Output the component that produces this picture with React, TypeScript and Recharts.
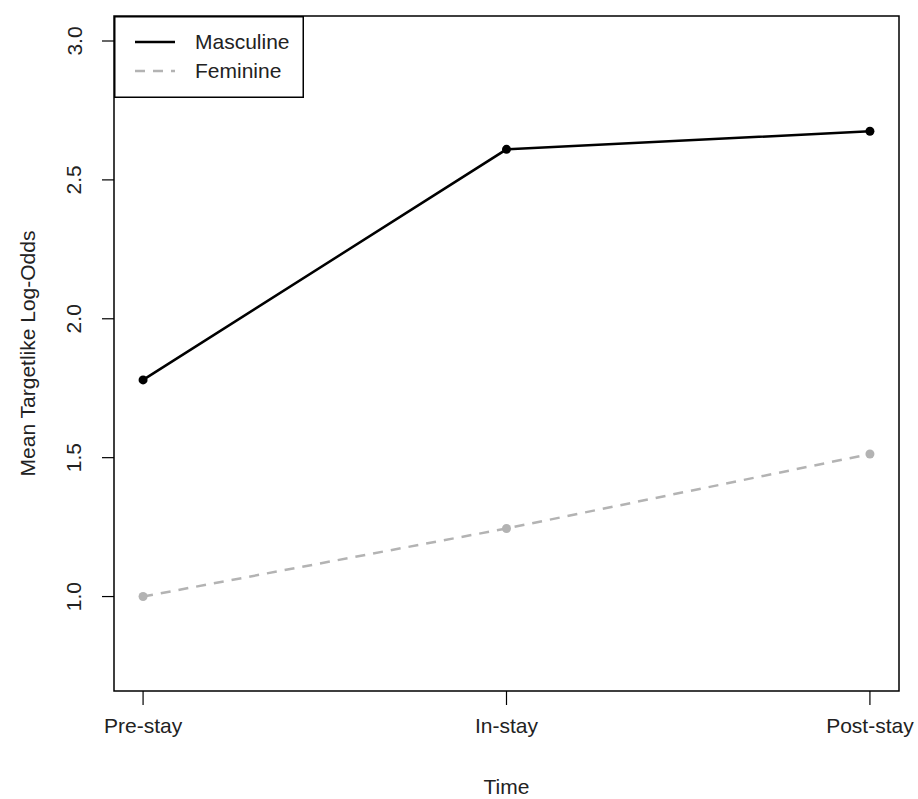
import { LineChart, Line, XAxis, YAxis, ReferenceArea, Label } from 'recharts';

const FONT = "'Liberation Sans', Arial, sans-serif";
const TEXT = '#222';
const GREY = '#b3b3b3';

const timePoints = [1, 2, 3];
const timeLabels = ['Pre-stay', 'In-stay', 'Post-stay'];
const masculine = [1.78, 2.61, 2.675];
const feminine = [1.0, 1.245, 1.513];
const yTicks = [1.0, 1.5, 2.0, 2.5, 3.0];
const seriesNames = ['Masculine', 'Feminine'];

const data = timePoints.map((t, i) => ({
  t,
  masculine: masculine[i],
  feminine: feminine[i],
}));

const XTick = (props: any) => {
  const { x, y, payload } = props;
  return (
    <text x={x} y={y + 26} textAnchor="middle" fontSize={21} fontFamily={FONT} fill={TEXT}>
      {timeLabels[payload.value - 1]}
    </text>
  );
};

const YTick = (props: any) => {
  const { x, y, payload } = props;
  const cx = x - 26;
  return (
    <text
      x={cx}
      y={y}
      textAnchor="middle"
      dominantBaseline="central"
      fontSize={21}
      fontFamily={FONT}
      fill={TEXT}
      transform={`rotate(-90 ${cx} ${y})`}
    >
      {payload.value.toFixed(1)}
    </text>
  );
};

// R-style legend box in the top-left corner of the plot
const LegendBox = () => (
  <svg width={190} height={82} style={{ display: 'block' }}>
    <rect x={0.75} y={0.75} width={188.5} height={80.5} fill="#fff" stroke="#000" strokeWidth={1.5} />
    <line x1={21} x2={61} y1={26} y2={26} stroke="#000" strokeWidth={2.5} />
    <line x1={21} x2={61} y1={55} y2={55} stroke={GREY} strokeWidth={2.5} strokeDasharray="10 8" />
    <text x={81} y={33} fontSize={21} fontFamily={FONT} fill={TEXT}>{seriesNames[0]}</text>
    <text x={81} y={62} fontSize={21} fontFamily={FONT} fill={TEXT}>{seriesNames[1]}</text>
  </svg>
);

export default function App() {
  return (
    <div style={{ position: 'absolute', left: 0, top: 0, width: 918, height: 799, background: '#fff' }}>
      <LineChart width={918} height={799} data={data} margin={{ top: 16, right: 19, left: 0, bottom: 0 }}>
        <XAxis
          type="number"
          dataKey="t"
          domain={[0.92, 3.08]}
          ticks={timePoints}
          height={108}
          axisLine={false}
          tickLine={{ stroke: '#000', strokeWidth: 1.2 }}
          tickSize={14}
          tick={<XTick />}
          interval={0}
        >
          <Label value="Time" position="insideBottom" offset={5} fontSize={21} fontFamily={FONT} fill={TEXT} />
        </XAxis>
        <YAxis
          type="number"
          domain={[0.66, 3.09]}
          ticks={yTicks}
          width={114}
          axisLine={false}
          tickLine={{ stroke: '#000', strokeWidth: 1.2 }}
          tickSize={12}
          tick={<YTick />}
          interval={0}
        >
          <Label
            content={({ viewBox }: any) => {
              const cx = viewBox.x + 27;
              const cy = viewBox.y + viewBox.height / 2;
              return (
                <text
                  x={cx}
                  y={cy}
                  textAnchor="middle"
                  dominantBaseline="central"
                  fontSize={21}
                  fontFamily={FONT}
                  fill={TEXT}
                  transform={`rotate(-90 ${cx} ${cy})`}
                >
                  Mean Targetlike Log-Odds
                </text>
              );
            }}
          />
        </YAxis>
        <ReferenceArea x1={0.92} x2={3.08} y1={0.66} y2={3.09} fill="none" stroke="#000" strokeWidth={1.5} ifOverflow="visible" />
        <Line
          dataKey="masculine"
          name={seriesNames[0]}
          stroke="#000"
          strokeWidth={2.5}
          dot={{ r: 4.5, fill: '#000', stroke: '#000', strokeWidth: 0 }}
          isAnimationActive={false}
        />
        <Line
          dataKey="feminine"
          name={seriesNames[1]}
          stroke={GREY}
          strokeWidth={2.5}
          strokeDasharray="10 8"
          dot={{ r: 4.5, fill: GREY, stroke: GREY, strokeWidth: 0, strokeDasharray: '0' }}
          isAnimationActive={false}
        />
      </LineChart>
      <div style={{ position: 'absolute', left: 114, top: 16 }}>
        <LegendBox />
      </div>
    </div>
  );
}
